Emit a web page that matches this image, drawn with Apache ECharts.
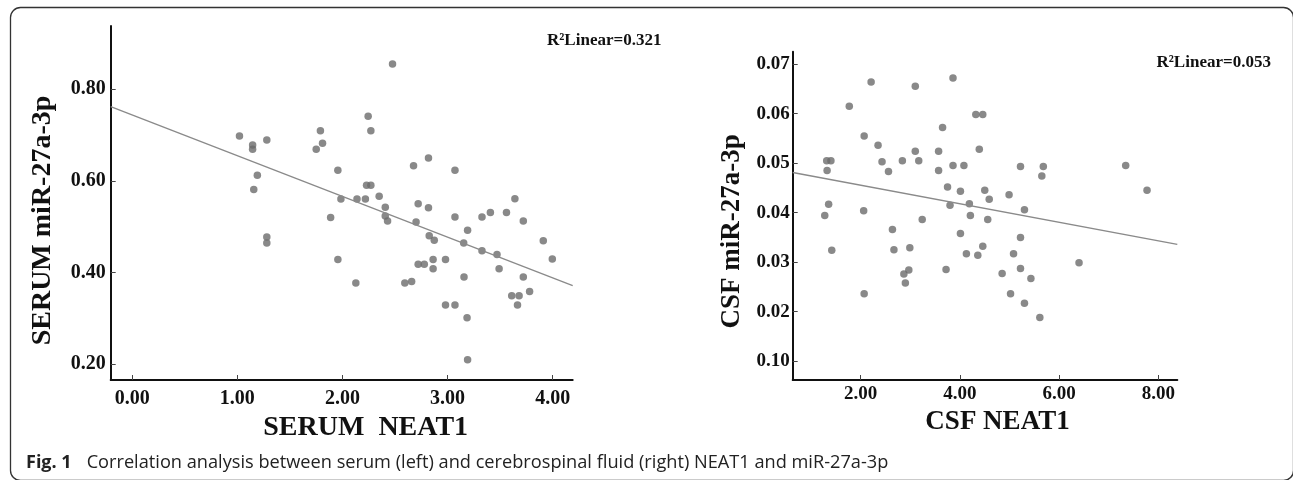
<!DOCTYPE html>
<html>
<head>
<meta charset="utf-8">
<script src="https://cdn.jsdelivr.net/npm/echarts@6/dist/echarts.min.js"></script>
<style>
html,body{margin:0;padding:0;background:#fff;}
#chart{width:1293px;height:480px;}
</style>
</head>
<body>
<div id="chart"></div>
<script>
// ---- Serum panel data ----
const serumNEAT1 = [1.02,1.145,1.145,1.28,1.19,1.156,1.28,1.28,1.75,1.79,1.81,1.956,1.985,1.887,1.956,2.127,2.138,2.218,2.229,2.27,2.244,2.27,2.476,2.349,2.407,2.407,2.429,2.676,2.72,2.70,2.818,2.818,2.825,2.873,2.72,2.778,2.862,2.862,2.593,2.658,2.98,2.98,3.07,3.07,3.07,3.19,3.153,3.156,3.185,3.19,3.327,3.407,3.327,3.47,3.49,3.56,3.64,3.72,3.72,3.61,3.68,3.665,3.78,3.91,3.996];
const serumMiR = [0.698,0.678,0.669,0.689,0.612,0.581,0.477,0.464,0.669,0.709,0.682,0.623,0.560,0.520,0.428,0.377,0.560,0.560,0.590,0.590,0.741,0.709,0.855,0.566,0.542,0.523,0.512,0.633,0.550,0.510,0.650,0.541,0.480,0.470,0.418,0.418,0.428,0.408,0.377,0.380,0.428,0.329,0.329,0.623,0.521,0.492,0.464,0.390,0.301,0.209,0.521,0.531,0.447,0.439,0.408,0.531,0.561,0.512,0.390,0.349,0.349,0.329,0.358,0.469,0.429];
const serumFitSlope = -0.089;
const serumFitIntercept = 0.7438;
const serumR2 = '0.321';
const serumXRange = [-0.205, 4.19];
const serumYRange = [0.165, 0.938];
const serumXTicks = [0, 1, 2, 3, 4];
const serumYTicks = [0.2, 0.4, 0.6, 0.8];

// ---- CSF panel data ----
const csfNEAT1 = [1.276,1.315,1.323,1.40,1.354,1.417,1.77,2.07,2.06,2.07,2.21,2.35,2.43,2.56,2.64,2.67,2.84,2.87,2.90,2.97,2.99,3.10,3.10,3.17,3.24,3.57,3.57,3.65,3.75,3.80,3.72,3.86,3.86,4.01,4.01,4.08,4.13,4.19,4.21,4.32,4.46,4.39,4.36,4.46,4.50,4.59,4.56,4.85,4.99,5.02,5.08,5.22,5.22,5.22,5.30,5.30,5.43,5.61,5.65,5.68,6.40,7.34,7.77];
const csfMiR = [0.0394,0.0505,0.0485,0.0505,0.0417,0.0324,0.0615,0.0555,0.0404,0.0236,0.0664,0.0536,0.0503,0.0483,0.0366,0.0325,0.0505,0.0276,0.0258,0.0284,0.0329,0.0655,0.0524,0.0505,0.0386,0.0524,0.0485,0.0572,0.0452,0.0415,0.0285,0.0672,0.0495,0.0443,0.0358,0.0495,0.0317,0.0418,0.0394,0.0598,0.0598,0.0528,0.0314,0.0332,0.0445,0.0427,0.0386,0.0277,0.0436,0.0236,0.0317,0.0493,0.0350,0.0287,0.0406,0.0217,0.0267,0.0188,0.0474,0.0493,0.0299,0.0495,0.0445];
const csfFitSlope = -0.00187;
const csfFitIntercept = 0.04928;
const csfR2 = '0.053';
const csfXRange = [0.63, 8.38];
const csfYRange = [0.0062, 0.0725];
const csfXTicks = [2, 4, 6, 8];
const csfYTicks = [0.01, 0.02, 0.03, 0.04, 0.05, 0.06, 0.07];
const csfYTickLabels = ['0.10', '0.02', '0.03', '0.04', '0.05', '0.06', '0.07'];

const caption = 'Correlation analysis between serum (left) and cerebrospinal fluid (right) NEAT1 and miR-27a-3p';

// ---- build ----
const serif = '"Liberation Serif", "Times New Roman", serif';
const pts = (xs, ys) => xs.map((x, i) => [x, ys[i]]);
const fitLine = (range, a, b) => [[range[0], b + a * range[0]], [range[1], b + a * range[1]]];

function xAxisOf(idx, range, ticks, fs, margin, name, nameSize, gap, shift) {
  return {
    type: 'value', gridIndex: idx, min: range[0], max: range[1],
    name: name, nameLocation: 'middle', nameGap: gap,
    nameTextStyle: { fontFamily: serif, fontWeight: 'bold', fontSize: nameSize, color: '#111', padding: [0, 0, 0, shift] },
    axisLine: { onZero: false, lineStyle: { color: '#111', width: 2 } },
    axisTick: { inside: true, length: 5, customValues: ticks, lineStyle: { color: '#444', width: 1 } },
    axisLabel: { customValues: ticks, margin: margin, fontFamily: serif, fontWeight: 'bold', fontSize: fs, color: '#111',
      formatter: v => v.toFixed(2) },
    splitLine: { show: false }
  };
}
function yAxisOf(idx, range, ticks, labels, fs, margin, name, nameSize, gap, shift) {
  return {
    type: 'value', gridIndex: idx, min: range[0], max: range[1],
    name: name, nameLocation: 'middle', nameGap: gap, nameRotate: 90,
    nameTextStyle: { fontFamily: serif, fontWeight: 'bold', fontSize: nameSize, color: '#111', padding: [0, shift, 0, 0] },
    axisLine: { onZero: false, lineStyle: { color: '#111', width: 2 } },
    axisTick: { inside: true, length: 5, customValues: ticks, lineStyle: { color: '#444', width: 1 } },
    axisLabel: { customValues: ticks, margin: margin, fontFamily: serif, fontWeight: 'bold', fontSize: fs, color: '#111',
      formatter: v => { const k = ticks.findIndex(t => Math.abs(t - v) < 1e-9); return k >= 0 ? labels[k] : ''; } },
    splitLine: { show: false }
  };
}

const serumYLabels = serumYTicks.map(v => v.toFixed(2));

const option = {
  backgroundColor: '#fff',
  animation: false,
  grid: [
    { left: 110.7, top: 26, width: 462, height: 354 },
    { left: 792.7, top: 51.7, width: 384.6, height: 328.3 }
  ],
  xAxis: [
    xAxisOf(0, serumXRange, serumXTicks, 20, 8.5, 'SERUM  NEAT1', 28, 34, 48),
    xAxisOf(1, csfXRange, csfXTicks, 19, 4.5, 'CSF NEAT1', 27, 27.5, 25)
  ],
  yAxis: [
    yAxisOf(0, serumYRange, serumYTicks, serumYLabels, 20, 5, 'SERUM miR-27a-3p', 28, 53.5, 35),
    yAxisOf(1, csfYRange, csfYTicks, csfYTickLabels, 19, 3, 'CSF miR-27a-3p', 27, 47.5, 31)
  ],
  series: [
    { type: 'scatter', xAxisIndex: 0, yAxisIndex: 0, data: pts(serumNEAT1, serumMiR), symbolSize: 7.5,
      itemStyle: { color: '#6b6b6b' } },
    { type: 'line', xAxisIndex: 0, yAxisIndex: 0, data: fitLine(serumXRange, serumFitSlope, serumFitIntercept),
      showSymbol: false, symbol: 'none', lineStyle: { color: '#8a8a8a', width: 1.3 } },
    { type: 'scatter', xAxisIndex: 1, yAxisIndex: 1, data: pts(csfNEAT1, csfMiR), symbolSize: 7.5,
      itemStyle: { color: '#6b6b6b' } },
    { type: 'line', xAxisIndex: 1, yAxisIndex: 1, data: fitLine(csfXRange, csfFitSlope, csfFitIntercept),
      showSymbol: false, symbol: 'none', lineStyle: { color: '#8a8a8a', width: 1.3 } }
  ],
  graphic: [
    { type: 'rect', shape: { x: 10.5, y: 7.5, width: 1283, height: 473, r: 10 }, silent: true,
      style: { fill: null, stroke: '#333', lineWidth: 1.3 } },
    { type: 'text', left: 547, top: 32, silent: true,
      style: { text: 'R\u00B2Linear=' + serumR2, font: 'bold 17px ' + serif, fill: '#111' } },
    { type: 'text', left: 1156.5, top: 54.5, silent: true,
      style: { text: 'R\u00B2Linear=' + csfR2, font: 'bold 17px ' + serif, fill: '#111' } },
    { type: 'text', left: 26, top: 453.5, silent: true,
      style: {
        text: '{b|Fig. 1}{n|' + caption + '}',
        rich: {
          b: { fontFamily: '"Open Sans", "Noto Sans", sans-serif', fontWeight: 'bold', fontSize: 18, fill: '#222', padding: [0, 15, 0, 0] },
          n: { fontFamily: '"Open Sans", "Noto Sans", sans-serif', fontSize: 18.2, fill: '#222' }
        }
      } }
  ]
};

const chart = echarts.init(document.getElementById('chart'), null, { renderer: 'canvas' });
chart.setOption(option);
</script>
</body>
</html>
